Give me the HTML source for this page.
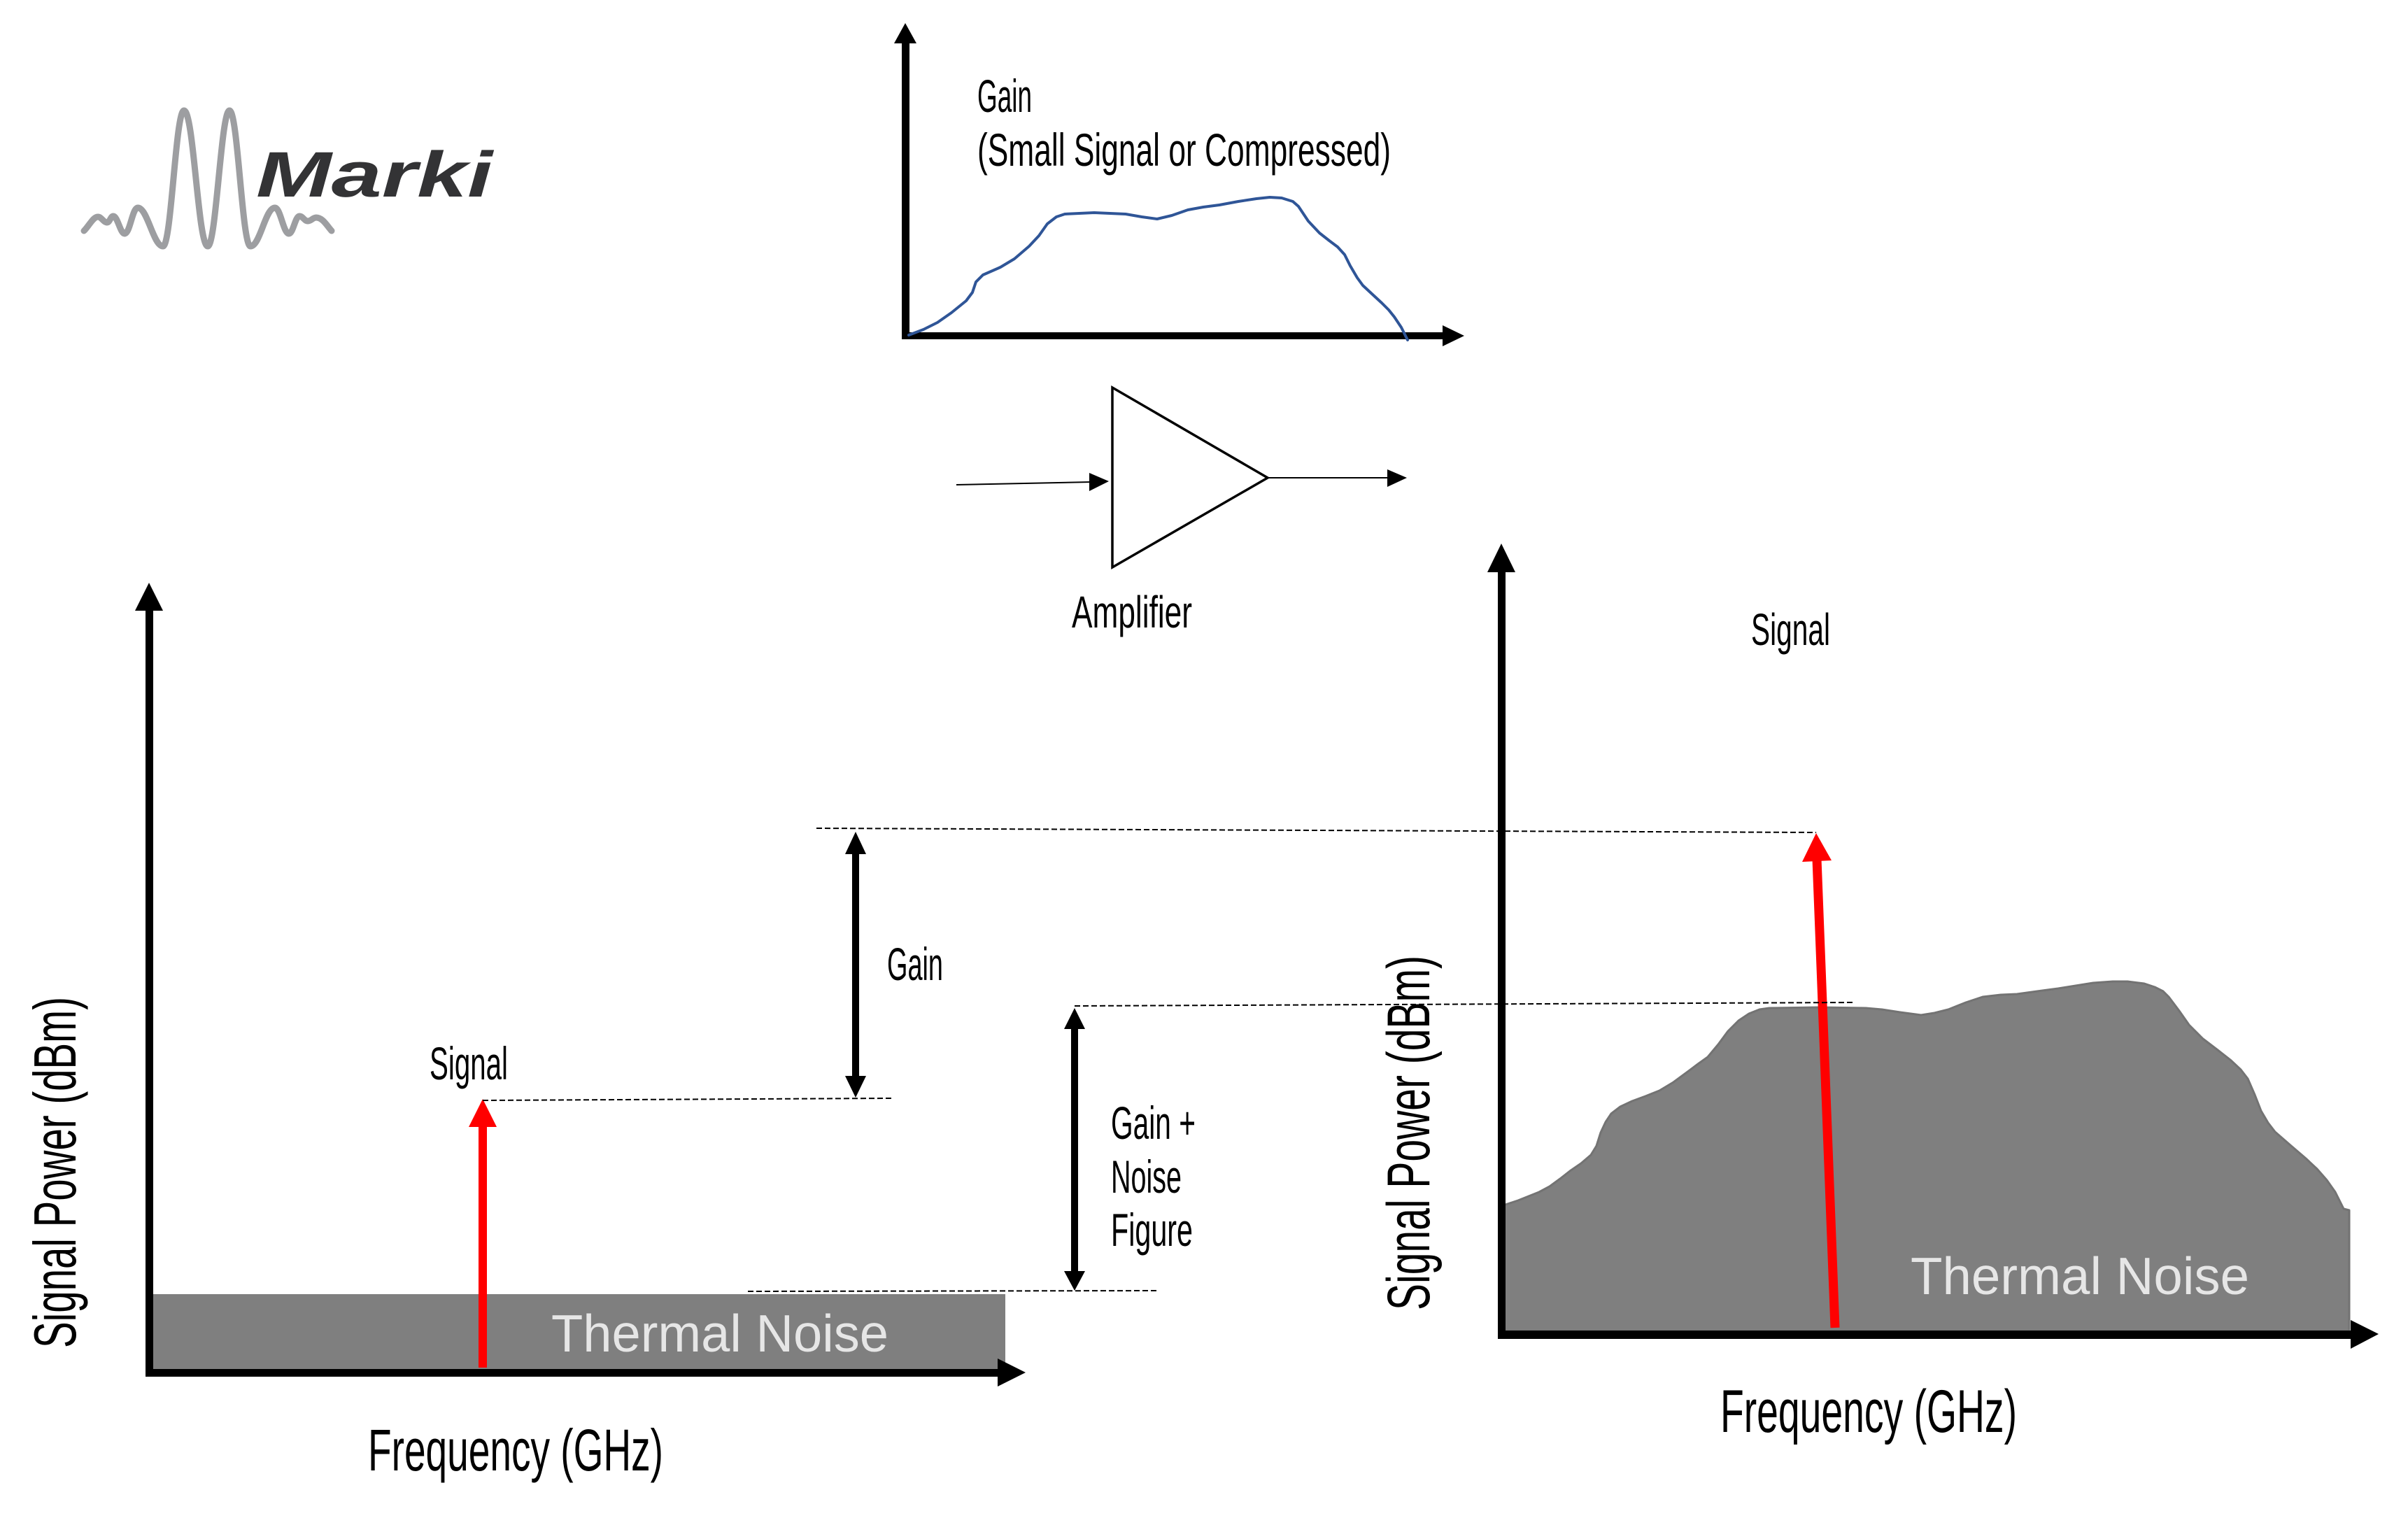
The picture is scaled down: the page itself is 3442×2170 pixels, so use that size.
<!DOCTYPE html>
<html>
<head>
<meta charset="utf-8">
<style>
  html, body { margin:0; padding:0; background:#ffffff; }
  body { width:3442px; height:2170px; overflow:hidden; }
  svg { display:block; }
  .ag { font-family:"Liberation Sans Narrow","Liberation Sans",sans-serif; fill:#000; }
  .tn { font-family:"Liberation Sans",sans-serif; fill:#e6e6e6; }
</style>
</head>
<body>
<svg xmlns="http://www.w3.org/2000/svg" width="3442" height="2170" viewBox="0 0 3442 2170">
  <rect x="0" y="0" width="3442" height="2170" fill="#ffffff"/>

  <!-- ===== Marki logo ===== -->
  <path d="M120,330 C128,322 133,310 140,310 C145,310 148,318 153,318 C157,318 158,309 162,309 C168,309 172,334 178,334 C186,334 189,297 197,297 C211,297 219,352 233,352 C245,352 251,158 263,158 C277,158 283,352 297,352 C309,352 316,158 328,158 C340,158 346,352 358,352 C372,352 379,297 393,297 C401,297 405,334 413,334 C419,334 422,309 428,309 C433,309 435,316 440,316 C445,316 447,311 452,311 C461,311 467,322 474,330"
        fill="none" stroke="#9d9ea1" stroke-width="9" stroke-linecap="round" stroke-linejoin="round"/>
  <text x="366" y="281" font-family="Liberation Sans, sans-serif" font-weight="bold" font-style="italic" font-size="92" fill="#333335" textLength="338" lengthAdjust="spacingAndGlyphs">Marki</text>

  <!-- ===== Top gain chart ===== -->
  <rect x="1289" y="60" width="11" height="425" fill="#000"/>
  <polygon points="1278,62 1310,62 1294,33" fill="#000"/>
  <rect x="1289" y="475" width="775" height="10" fill="#000"/>
  <polygon points="2062,465 2062,495 2093,480" fill="#000"/>
  <polyline fill="none" stroke="#2f5597" stroke-width="4" stroke-linejoin="round" stroke-linecap="round"
    points="1299,479 1320,471 1340,461 1360,447 1381,430 1390,418 1395,403 1405,393 1430,382 1450,370 1471,352 1485,337 1497,320 1510,310 1522,306 1564,304 1609,306 1632,310 1654,313 1675,308 1698,300 1720,296 1743,293 1770,288 1796,284 1815,282 1832,283 1848,288 1856,295 1870,316 1886,333 1900,344 1912,353 1922,364 1930,380 1940,397 1948,408 1962,421 1975,433 1985,443 1993,453 2003,468 2012,486"/>
  <text class="ag" x="1397" y="160" font-size="66" textLength="78" lengthAdjust="spacingAndGlyphs">Gain</text>
  <text class="ag" x="1397" y="237" font-size="66" textLength="591" lengthAdjust="spacingAndGlyphs">(Small Signal or Compressed)</text>

  <!-- ===== Amplifier ===== -->
  <line x1="1367" y1="693" x2="1560" y2="689" stroke="#000" stroke-width="2"/>
  <polygon points="1557,676 1557,702 1585,688" fill="#000"/>
  <polygon points="1590,554 1590,811 1812,683" fill="#fff" stroke="#000" stroke-width="3.5" stroke-linejoin="miter"/>
  <line x1="1812" y1="683" x2="1986" y2="683" stroke="#000" stroke-width="2"/>
  <polygon points="1983,671 1983,696 2011,683" fill="#000"/>
  <text class="ag" x="1532" y="897" font-size="64" textLength="172" lengthAdjust="spacingAndGlyphs">Amplifier</text>

  <!-- ===== Left chart ===== -->
  <rect x="217" y="1850" width="1220" height="108" fill="#7f7f7f"/>
  <rect x="208" y="870" width="11" height="1098" fill="#000"/>
  <polygon points="193,873 233,873 213,833" fill="#000"/>
  <rect x="208" y="1957" width="1220" height="11" fill="#000"/>
  <polygon points="1426,1942 1426,1982 1466,1962" fill="#000"/>
  <rect x="684" y="1609" width="12" height="346" fill="#ff0000"/>
  <polygon points="670,1611 710,1611 690,1571" fill="#ff0000"/>
  <text class="tn" x="788" y="1932" font-size="75" textLength="482" lengthAdjust="spacingAndGlyphs">Thermal Noise</text>
  <text class="ag" x="614" y="1543" font-size="66" textLength="112" lengthAdjust="spacingAndGlyphs">Signal</text>
  <text class="ag" x="526" y="2102" font-size="84" textLength="422" lengthAdjust="spacingAndGlyphs">Frequency (GHz)</text>
  <text class="ag" transform="translate(108,1927) rotate(-90)" x="0" y="0" font-size="85" textLength="502" lengthAdjust="spacingAndGlyphs">Signal Power (dBm)</text>

  <!-- ===== Right chart ===== -->
  <polygon fill="#7f7f7f" stroke="#737373" stroke-width="3" stroke-linejoin="round"
    points="2146,1724 2170,1716 2185,1710 2200,1704 2215,1696 2230,1685 2244,1674 2260,1663 2274,1651 2282,1638 2288,1619 2295,1604 2303,1592 2316,1582 2333,1574 2352,1567 2372,1559 2392,1547 2411,1533 2427,1521 2441,1511 2456,1493 2470,1474 2485,1459 2500,1449 2515,1443 2529,1441 2600,1440 2667,1441 2690,1443 2716,1447 2746,1451 2765,1448 2785,1443 2810,1433 2834,1425 2860,1422 2883,1421 2912,1417 2942,1413 2967,1409 2992,1405 3020,1403 3041,1403 3065,1406 3080,1411 3092,1417 3100,1425 3115,1445 3129,1465 3149,1485 3170,1501 3188,1515 3203,1529 3213,1542 3223,1565 3232,1588 3242,1605 3252,1618 3275,1638 3296,1656 3312,1671 3326,1687 3338,1704 3350,1728 3358,1730 3358,1903 2146,1903"/>
  <rect x="2141" y="815" width="11" height="1099" fill="#000"/>
  <polygon points="2126,818 2166,818 2146,777" fill="#000"/>
  <rect x="2141" y="1902" width="1221" height="12" fill="#000"/>
  <polygon points="3360,1887 3360,1928 3400,1907" fill="#000"/>
  <line x1="2623" y1="1898" x2="2597" y2="1228" stroke="#ff0000" stroke-width="13"/>
  <polygon points="2576,1232 2618,1230 2596,1191" fill="#ff0000"/>
  <text class="tn" x="2731" y="1850" font-size="75" textLength="484" lengthAdjust="spacingAndGlyphs">Thermal Noise</text>
  <text class="ag" x="2503" y="922" font-size="64" textLength="113" lengthAdjust="spacingAndGlyphs">Signal</text>
  <text class="ag" x="2459" y="2047" font-size="86" textLength="424" lengthAdjust="spacingAndGlyphs">Frequency (GHz)</text>
  <text class="ag" transform="translate(2043,1873) rotate(-90)" x="0" y="0" font-size="86" textLength="507" lengthAdjust="spacingAndGlyphs">Signal Power (dBm)</text>

  <!-- ===== Dashed reference lines ===== -->
  <g stroke="#000" stroke-width="2" stroke-dasharray="8,4" fill="none">
    <line x1="1167" y1="1184" x2="2596" y2="1190"/>
    <line x1="690" y1="1573" x2="1274" y2="1570"/>
    <line x1="1536" y1="1438" x2="2652" y2="1433"/>
    <line x1="1069" y1="1846" x2="1657" y2="1845"/>
  </g>

  <!-- ===== Gain double arrow ===== -->
  <rect x="1218" y="1218" width="10" height="323" fill="#000"/>
  <polygon points="1208,1221 1238,1221 1223,1189" fill="#000"/>
  <polygon points="1208,1538 1238,1538 1223,1569" fill="#000"/>
  <text class="ag" x="1268" y="1401" font-size="66" textLength="80" lengthAdjust="spacingAndGlyphs">Gain</text>

  <!-- ===== Gain + NF double arrow ===== -->
  <rect x="1531" y="1468" width="10" height="352" fill="#000"/>
  <polygon points="1521,1471 1551,1471 1536,1441" fill="#000"/>
  <polygon points="1521,1817 1551,1817 1536,1845" fill="#000"/>
  <text class="ag" x="1588" y="1628" font-size="66" textLength="121" lengthAdjust="spacingAndGlyphs">Gain +</text>
  <text class="ag" x="1588" y="1705" font-size="66" textLength="101" lengthAdjust="spacingAndGlyphs">Noise</text>
  <text class="ag" x="1588" y="1781" font-size="66" textLength="117" lengthAdjust="spacingAndGlyphs">Figure</text>
</svg>
</body>
</html>
